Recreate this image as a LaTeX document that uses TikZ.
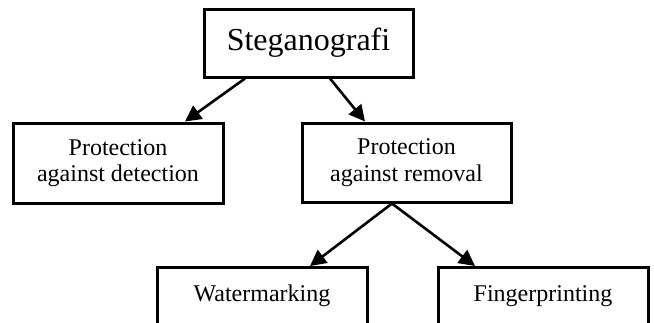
\documentclass[tikz,border=0pt]{standalone}
\usepackage{fontspec}
\setmainfont{Liberation Serif}
\usetikzlibrary{arrows.meta}
\begin{document}
\begin{tikzpicture}[x=1pt,y=-1pt,
  box/.style={draw=black, line width=3pt, inner sep=0pt, align=center,
    font=\fontsize{24}{26.5}\selectfont},
  openbox/.style={box, anchor=north, text width=210pt, text height=34pt, text depth=70pt},
  link/.style={line width=2.6pt, -{Triangle[length=16pt,width=16pt]}}]
  \useasboundingbox (0,0) rectangle (654,322);
  \clip (0,0) rectangle (654,322);

  \node[box, minimum width=209pt, minimum height=68pt,
        font=\fontsize{32}{38}\selectfont] (root) at (308.5,43) {Steganografi};
  \node[box, minimum width=210pt, minimum height=80pt] (detect) at (118,163)
        {Protection\\against detection};
  \node[box, minimum width=209pt, minimum height=79pt] (removal) at (406.5,162.5)
        {Protection\\against removal};
  \node[openbox] (water) at (262,266) {Watermarking};
  \node[openbox] (finger) at (543,266) {Fingerprinting};

  \draw[link] ([xshift=-63.5pt]root.south) -- ([xshift=67pt]detect.north);
  \draw[link] ([xshift=21.5pt]root.south) -- ([xshift=-41.5pt]removal.north);
  \draw[link] ([xshift=-14.5pt]removal.south) -- ([xshift=48pt]water.north);
  \draw[link] ([xshift=-14.5pt]removal.south) -- ([xshift=-68pt]finger.north);
\end{tikzpicture}
\end{document}
